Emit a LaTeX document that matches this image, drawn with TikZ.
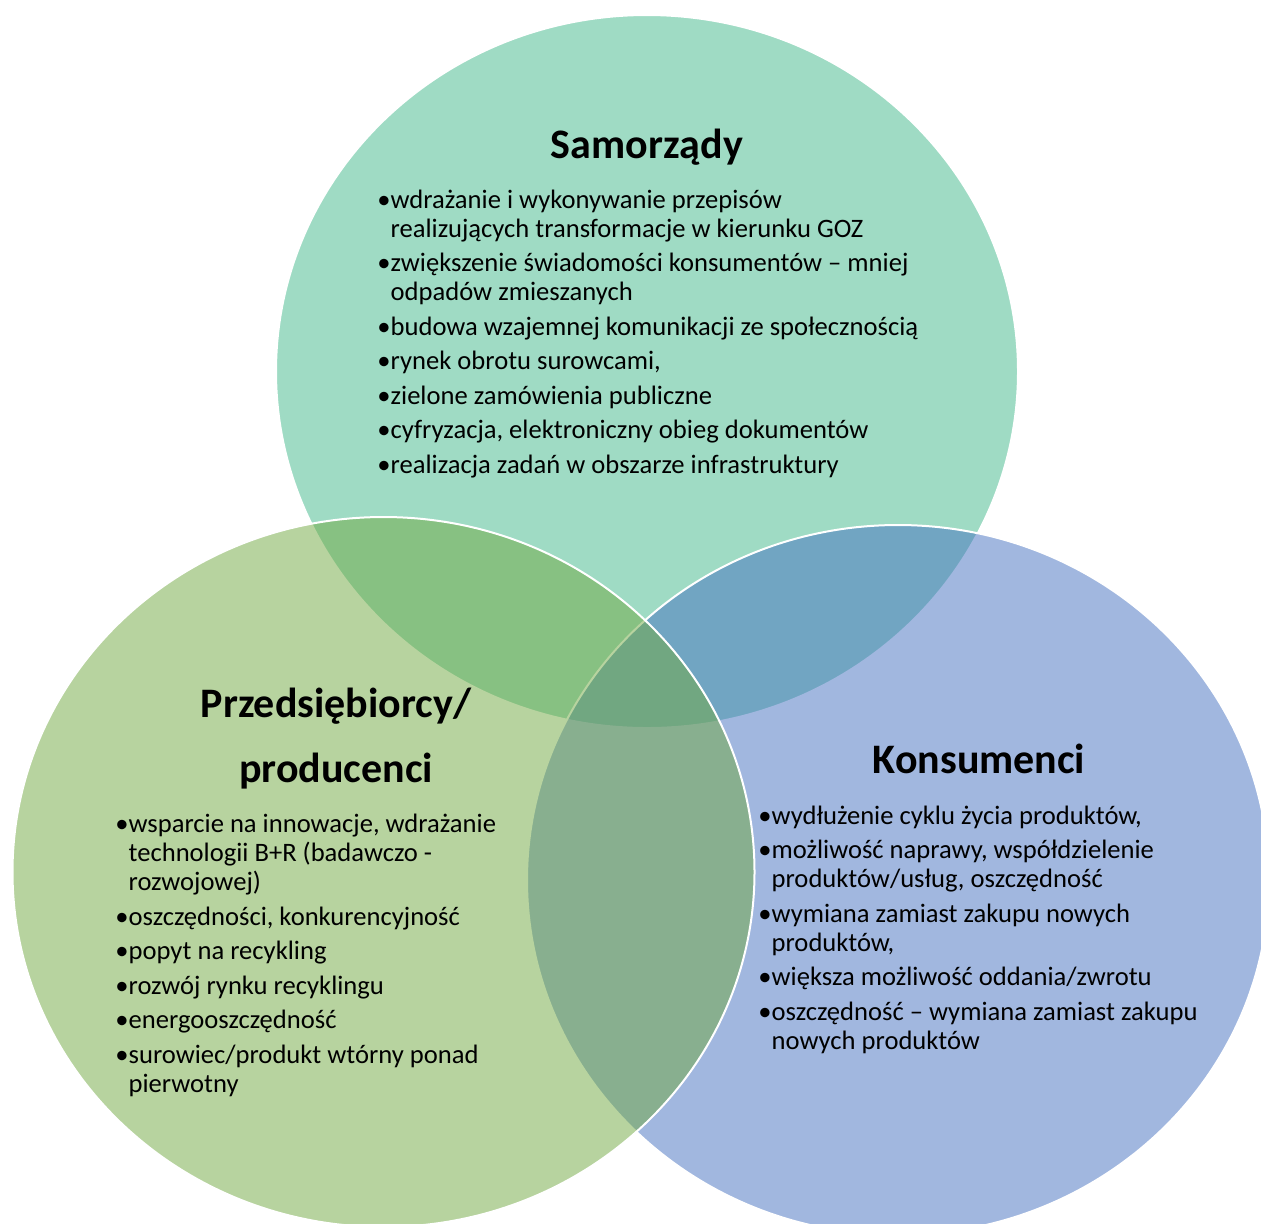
\documentclass[tikz,border=0pt]{standalone}
\usepackage{fontspec}
\setmainfont{Carlito}
\definecolor{samgreen}{HTML}{41B98B}
\definecolor{przgreen}{HTML}{71A941}
\definecolor{konblue}{HTML}{4571C1}
\newcommand{\ind}{\phantom{•}}
\begin{document}
\begin{tikzpicture}[x=0.5pt,y=-0.5pt,
  venn/.style={fill opacity=0.5,draw=white,line width=1pt},
  title/.style={font=\fontsize{21}{32.5}\selectfont\bfseries,align=center,inner sep=0pt,anchor=base},
  list/.style={font=\fontsize{13.3}{14.5}\selectfont,align=left,inner sep=0pt,anchor=base west}]
  \fill[white] (0,0) rectangle (1261,1223);
  \useasboundingbox (0,0) rectangle (1261,1223);
  \clip (0,0) rectangle (1261,1223);
  % top circle
  \filldraw[venn,fill=samgreen] (647,371.5) ellipse [x radius=371, y radius=356.5];
  % right circle
  \filldraw[venn,fill=konblue] (898,880) ellipse [x radius=371, y radius=355];
  % left circle
  \filldraw[venn,fill=przgreen] (383.5,872) ellipse [x radius=371, y radius=355];
  % titles (base = last line)
  \node[title] (samtitle) at (647,158) {Samorządy};
  \node[title] (przititle) at (336,782) {Przedsiębiorcy/\\producenci};
  \node[title] (kontitle) at (979,773) {Konsumenci};
  % top list
  \node[list] (samlist) at (377,473) {•wdrażanie i wykonywanie przepisów\\
    \ind realizujących transformacje w kierunku GOZ\\[2.75pt]
    •zwiększenie świadomości konsumentów – mniej\\
    \ind odpadów zmieszanych\\[2.75pt]
    •budowa wzajemnej komunikacji ze społecznością\\[2.75pt]
    •rynek obrotu surowcami,\\[2.75pt]
    •zielone zamówienia publiczne\\[2.75pt]
    •cyfryzacja, elektroniczny obieg dokumentów\\[2.75pt]
    •realizacja zadań w obszarze infrastruktury};
  % left list
  \node[list] (przlist) at (115,1092) {•wsparcie na innowacje, wdrażanie\\
    \ind technologii B+R (badawczo -\\
    \ind rozwojowej)\\[2.75pt]
    •oszczędności, konkurencyjność\\[2.75pt]
    •popyt na recykling\\[2.75pt]
    •rozwój rynku recyklingu\\[2.75pt]
    •energooszczędność\\[2.75pt]
    •surowiec/produkt wtórny ponad\\
    \ind pierwotny};
  % right list
  \node[list] (konlist) at (758,1049) {•wydłużenie cyklu życia produktów,\\[2.75pt]
    •możliwość naprawy, współdzielenie\\
    \ind produktów/usług, oszczędność\\[2.75pt]
    •wymiana zamiast zakupu nowych\\
    \ind produktów,\\[2.75pt]
    •większa możliwość oddania/zwrotu\\[2.75pt]
    •oszczędność – wymiana zamiast zakupu\\
    \ind nowych produktów};
\end{tikzpicture}
\end{document}
